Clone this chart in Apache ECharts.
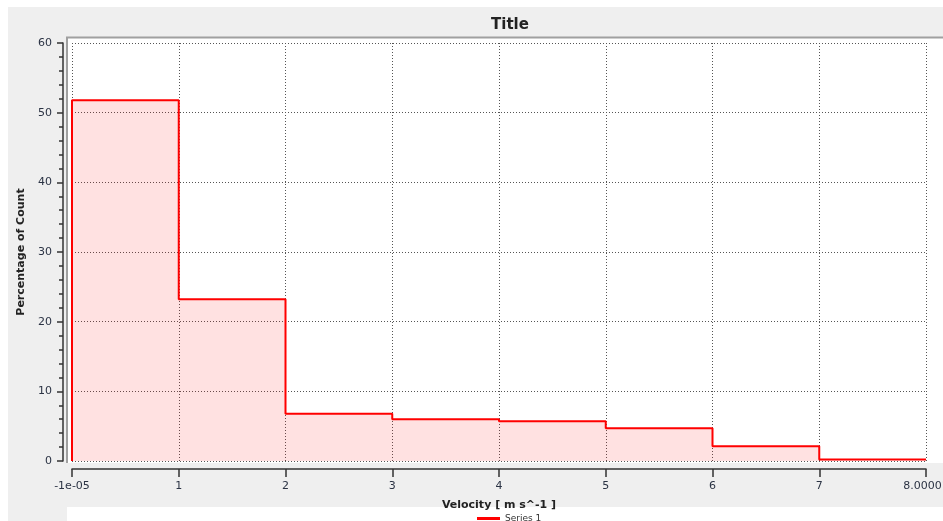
<!DOCTYPE html>
<html>
<head>
<meta charset="utf-8">
<script src="https://cdn.jsdelivr.net/npm/echarts@6/dist/echarts.min.js"></script>
<style>html,body{margin:0;padding:0;background:#fff}#c{width:943px;height:521px}</style>
</head>
<body>
<div id="c"></div>
<script>
// Histogram data
const binEdges = [0, 1, 2, 3, 4, 5, 6, 7, 8];
const percentages = [51.8, 23.2, 6.8, 6.0, 5.7, 4.7, 2.1, 0.2];
const xTickValues = [0, 1, 2, 3, 4, 5, 6, 7, 8];
const xTickLabels = ['-1e-05', '1', '2', '3', '4', '5', '6', '7', '8.00001'];
const yTickValues = [0, 10, 20, 30, 40, 50, 60];
const seriesName = 'Series 1';

const stepData = [[binEdges[0], 0]];
for (let i = 0; i < percentages.length; i++) {
  stepData.push([binEdges[i + 1], percentages[i]]);
}

const FONT = 'DejaVu Sans';
const TXT = '#2b3344';
const chart = echarts.init(document.getElementById('c'));
chart.setOption({
  animation: false,
  backgroundColor: '#ffffff',
  textStyle: { fontFamily: FONT },
  graphic: [
    { type: 'rect', z: -10, shape: { x: 8, y: 7, width: 935, height: 514 }, style: { fill: '#efefef' } },
    { type: 'rect', z: -9, shape: { x: 67, y: 507, width: 876, height: 14 }, style: { fill: '#ffffff' } },
    { type: 'rect', z: -9, shape: { x: 67, y: 38, width: 876, height: 425 }, style: { fill: '#ffffff' } },
    { type: 'line', z: -8, shape: { x1: 66, y1: 37.5, x2: 943, y2: 37.5 }, style: { stroke: '#a0a0a0', lineWidth: 2 } },
    { type: 'line', z: -8, shape: { x1: 67, y1: 37, x2: 67, y2: 463 }, style: { stroke: '#a0a0a0', lineWidth: 2 } }
  ],
  title: {
    text: 'Title',
    left: 505,
    textAlign: 'center',
    top: 13,
    textStyle: { fontFamily: FONT, fontSize: 15, fontWeight: 'bold', color: '#222' }
  },
  legend: {
    top: 509,
    left: 472,
    icon: 'rect',
    itemWidth: 23,
    itemHeight: 3,
    itemGap: 6,
    textStyle: { fontFamily: FONT, fontSize: 9, color: '#333' },
    data: [seriesName]
  },
  grid: { left: 72, right: 17, top: 43, bottom: 60, containLabel: false, outerBoundsMode: 'none' },
  xAxis: {
    type: 'value',
    min: xTickValues[0],
    max: xTickValues[xTickValues.length - 1],
    interval: 1,
    offset: 8,
    name: 'Velocity [ m s^-1 ]',
    nameLocation: 'middle',
    nameGap: 31,
    nameTextStyle: { fontFamily: FONT, fontSize: 11, fontWeight: 'bold', color: '#222' },
    axisLine: { show: true, onZero: false, lineStyle: { color: '#333', width: 1.5 } },
    axisTick: { show: true, inside: false, length: 8, lineStyle: { color: '#333', width: 1.5 } },
    axisLabel: {
      margin: 12,
      fontFamily: FONT,
      fontSize: 11,
      color: TXT,
      showMinLabel: true,
      showMaxLabel: true,
      formatter: function (v) {
        const i = xTickValues.indexOf(v);
        return i >= 0 ? xTickLabels[i] : '';
      }
    },
    splitLine: { show: true, lineStyle: { color: '#555', type: [1, 2], width: 1 } }
  },
  yAxis: {
    type: 'value',
    min: yTickValues[0],
    max: yTickValues[yTickValues.length - 1],
    interval: 10,
    offset: 9,
    name: 'Percentage of Count',
    nameLocation: 'middle',
    nameGap: 32,
    nameTextStyle: { fontFamily: FONT, fontSize: 11, fontWeight: 'bold', color: '#222' },
    axisLine: { show: true, onZero: false, lineStyle: { color: '#333', width: 1.5 } },
    axisTick: { show: true, length: 6, lineStyle: { color: '#333', width: 1.5 } },
    minorTick: { show: true, splitNumber: 5, length: 4, lineStyle: { color: '#333', width: 1.5 } },
    axisLabel: { margin: 11, fontFamily: FONT, fontSize: 11, color: TXT },
    splitLine: { show: true, lineStyle: { color: '#555', type: [1, 2], width: 1 } }
  },
  series: [{
    name: seriesName,
    type: 'line',
    step: 'start',
    symbol: 'none',
    data: stepData,
    color: '#ff0000',
    lineStyle: { color: '#ff0000', width: 2 },
    areaStyle: { color: 'rgba(255,0,0,0.17)', origin: 'start' }
  }]
});
</script>
</body>
</html>
